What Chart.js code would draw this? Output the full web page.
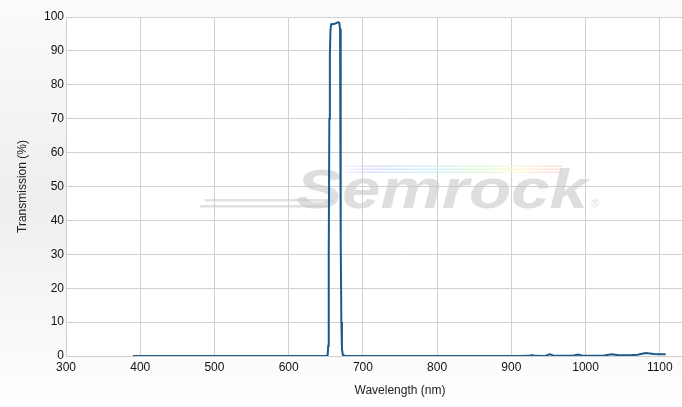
<!DOCTYPE html>
<html>
<head>
<meta charset="utf-8">
<script src="https://cdn.jsdelivr.net/npm/chart.js@4"></script>
<style>
  html, body { margin: 0; padding: 0; background: #ffffff; }
  #wrap { width: 682px; height: 407px; overflow: hidden; position: relative; }
  canvas { display: block; }
</style>
</head>
<body>
<div id="wrap"><canvas id="c" width="738" height="407" style="width:738px;height:407px"></canvas></div>
<script>
// ---- data ----
const wavelengths = [390, 420, 460, 500, 540, 580, 620, 640, 650, 652.5, 653.3, 654, 654.8, 655.5, 656.3, 657.2, 662, 666.6, 668.3, 669.2, 669.8, 670.4, 671, 671.8, 673, 676, 690, 720, 760, 800, 840, 880, 910, 924, 927.5, 931, 945, 952, 958, 970, 984, 990, 996, 1010, 1025, 1035, 1045, 1060, 1070, 1081, 1092, 1100, 1108];
const transmission = [0, 0, 0, 0, 0, 0, 0, 0, 0, 0.2, 3, 30, 70, 89, 96, 97.8, 98.0, 98.5, 98.2, 96.5, 75, 35, 10, 2, 0.3, 0, 0, 0, 0, 0, 0, 0, 0, 0.05, 0.3, 0.05, 0, 0.5, 0.05, 0.05, 0.15, 0.4, 0.1, 0.05, 0.15, 0.5, 0.2, 0.2, 0.4, 0.9, 0.6, 0.5, 0.5];
const xTicks = [300, 400, 500, 600, 700, 800, 900, 1000, 1100, 1200];
const yTicks = [0, 10, 20, 30, 40, 50, 60, 70, 80, 90, 100];

const FONT = '"Liberation Sans", Arial, sans-serif';
const GRID = '#d0d0d0';

const bgPlugin = {
  id: 'bg',
  beforeDraw(chart) {
    const { ctx, width, height, chartArea } = chart;
    ctx.save();
    const g = ctx.createLinearGradient(0, 0, 0, height);
    g.addColorStop(0, '#fbfbfb');
    g.addColorStop(0.5, '#eeeeee');
    g.addColorStop(1, '#ffffff');
    ctx.fillStyle = g;
    ctx.fillRect(0, 0, width, height);
    ctx.fillStyle = '#ffffff';
    ctx.fillRect(chartArea.left, chartArea.top, chartArea.right - chartArea.left, chartArea.bottom - chartArea.top);
    ctx.restore();
  }
};

const watermarkPlugin = {
  id: 'watermark',
  beforeDatasetsDraw(chart) {
    const { ctx, chartArea } = chart;
    ctx.save();
    ctx.beginPath();
    ctx.rect(chartArea.left, chartArea.top, chartArea.right - chartArea.left, chartArea.bottom - chartArea.top);
    ctx.clip();
    // rainbow stripes
    const rg = ctx.createLinearGradient(337, 0, 562, 0);
    rg.addColorStop(0, 'rgba(215,218,255,0.0)');
    rg.addColorStop(0.15, 'rgba(215,218,255,0.9)');
    rg.addColorStop(0.4, 'rgba(205,240,255,0.9)');
    rg.addColorStop(0.6, 'rgba(215,250,215,0.9)');
    rg.addColorStop(0.8, 'rgba(255,250,210,0.9)');
    rg.addColorStop(1, 'rgba(255,215,215,0.9)');
    ctx.fillStyle = rg;
    ctx.fillRect(337, 165.5, 225, 1.5);
    ctx.fillRect(340, 168.5, 222, 1.5);
    ctx.fillRect(343, 171.5, 219, 1.5);
    // speed lines
    ctx.fillStyle = 'rgba(205,205,205,0.6)';
    ctx.fillRect(205, 199, 128, 2.5);
    ctx.fillRect(200, 205, 128, 2.5);
    // word mark
    ctx.font = 'italic bold 56px ' + FONT;
    const w = ctx.measureText('Semrock').width;
    ctx.translate(296, 208);
    ctx.scale(292 / w, 1);
    ctx.fillStyle = 'rgba(200,200,200,0.6)';
    ctx.textBaseline = 'alphabetic';
    ctx.fillText('Semrock', 0, 0);
    ctx.setTransform(1, 0, 0, 1, 0, 0);
    ctx.font = '11px ' + FONT;
    ctx.fillText('\u00AE', 591, 207);
    ctx.restore();
  }
};

const points = wavelengths.map((w, i) => ({ x: w, y: transmission[i] }));

new Chart(document.getElementById('c'), {
  type: 'line',
  data: {
    datasets: [{
      data: points,
      borderColor: '#1b5a8c',
      borderWidth: 2,
      pointRadius: 0,
      tension: 0,
      fill: false
    }]
  },
  options: {
    responsive: false,
    animation: false,
    layout: { padding: { top: 17, right: 0, left: 0, bottom: 0 } },
    plugins: { legend: { display: false }, tooltip: { enabled: false } },
    scales: {
      x: {
        type: 'linear',
        min: xTicks[0],
        max: xTicks[xTicks.length - 1],
        afterBuildTicks(s) { s.ticks = xTicks.map(v => ({ value: v })); },
        afterFit(s) { s.height = 51; },
        ticks: {
          padding: 4,
          color: '#111111',
          font: { family: FONT, size: 12 },
          maxRotation: 0,
          autoSkip: false,
          callback: (v) => (v === 1200 ? '' : String(v))
        },
        grid: { color: GRID, drawTicks: false },
        border: { color: GRID },
        title: {
          display: true,
          text: 'Wavelength (nm)',
          color: '#222222',
          font: { family: FONT, size: 12 },
          padding: { top: 0, bottom: 9 }
        }
      },
      y: {
        min: 0,
        max: 100,
        afterBuildTicks(s) { s.ticks = yTicks.map(v => ({ value: v })); },
        afterFit(s) { s.width = 66; },
        ticks: {
          padding: 2,
          color: '#111111',
          font: { family: FONT, size: 12 },
          callback: (v) => String(v)
        },
        grid: { color: GRID, drawTicks: false },
        border: { color: GRID },
        title: {
          display: true,
          text: 'Transmission (%)',
          color: '#222222',
          font: { family: FONT, size: 12 },
          padding: { top: 15, bottom: 0 }
        }
      }
    }
  },
  plugins: [bgPlugin, watermarkPlugin]
});
</script>
</body>
</html>
